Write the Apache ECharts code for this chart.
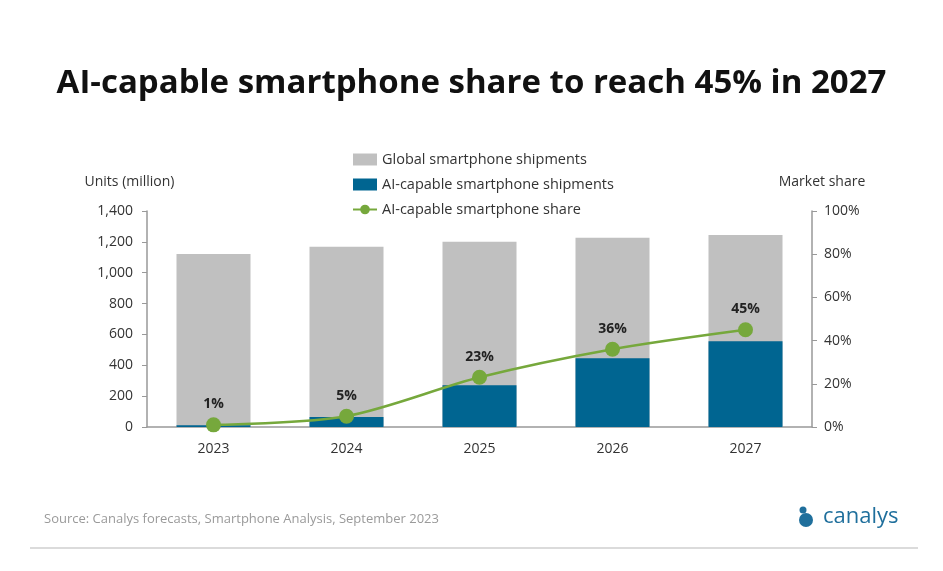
<!DOCTYPE html>
<html>
<head>
<meta charset="utf-8">
<script src="https://cdn.jsdelivr.net/npm/echarts@6/dist/echarts.min.js"></script>
<style>
  html, body { margin: 0; padding: 0; background: #fff; }
  #chart { width: 943px; height: 571px; }
</style>
</head>
<body>
<div id="chart"></div>
<script>
var years = ['2023', '2024', '2025', '2026', '2027'];
var globalShipments = [1122, 1168, 1200, 1226, 1245];
var aiShipments = [11, 65, 271, 445, 555];
var aiShare = [1, 5, 23, 36, 45];
var leftTicks = { min: 0, max: 1400, interval: 200 };
var rightTicks = { min: 0, max: 100, interval: 20 };

var font = 'Open Sans';
var myChart = echarts.init(document.getElementById('chart'));

var option = {
    backgroundColor: '#fff',
    animation: false,
    title: {
        text: 'AI-capable smartphone share to reach 45% in 2027',
        left: 'center',
        top: 62,
        textStyle: { fontFamily: font, fontSize: 33, fontWeight: 'bold', color: '#111' }
    },
    legend: {
        orient: 'vertical',
        left: 347,
        top: 147,
        itemGap: 10,
        itemWidth: 24,
        itemHeight: 12,
        textStyle: { fontFamily: font, fontSize: 14.5, color: '#333' },
        data: [
            { name: 'Global smartphone shipments', icon: 'rect' },
            { name: 'AI-capable smartphone shipments', icon: 'rect' },
            { name: 'AI-capable smartphone share', itemStyle: { borderWidth: 0 } }
        ]
    },
    grid: { left: 147, right: 131, top: 211, bottom: 144 },
    xAxis: {
        type: 'category',
        data: years,
        axisLine: { lineStyle: { color: '#999', width: 1.5 } },
        axisTick: { show: false },
        axisLabel: { fontFamily: font, fontSize: 14, color: '#333', margin: 15 }
    },
    yAxis: [
        {
            type: 'value',
            name: 'Units (million)',
            nameGap: 22,
            nameTextStyle: { fontFamily: font, fontSize: 14, color: '#333', align: 'center', padding: [0, 0, 0, -35] },
            min: leftTicks.min,
            max: leftTicks.max,
            interval: leftTicks.interval,
            axisLine: { show: true, lineStyle: { color: '#999', width: 1.5 } },
            axisTick: { show: true, length: 5, lineStyle: { color: '#999' } },
            splitLine: { show: false },
            axisLabel: {
                fontFamily: font, fontSize: 14, color: '#333', margin: 14,
                formatter: function (v) { return v.toLocaleString('en-US'); }
            }
        },
        {
            type: 'value',
            name: 'Market share',
            nameGap: 22,
            nameTextStyle: { fontFamily: font, fontSize: 14, color: '#333', padding: [0, 0, 0, 20] },
            min: rightTicks.min,
            max: rightTicks.max,
            interval: rightTicks.interval,
            axisLine: { show: true, lineStyle: { color: '#999', width: 1.5 } },
            axisTick: { show: true, length: 5, lineStyle: { color: '#999' } },
            splitLine: { show: false },
            axisLabel: { fontFamily: font, fontSize: 14, color: '#333', margin: 12, formatter: '{value}%' }
        }
    ],
    series: [
        {
            name: 'Global smartphone shipments',
            type: 'bar',
            data: globalShipments,
            barWidth: 74,
            barGap: '-100%',
            itemStyle: { color: '#c0c0c0' }
        },
        {
            name: 'AI-capable smartphone shipments',
            type: 'bar',
            data: aiShipments,
            barWidth: 74,
            barGap: '-100%',
            itemStyle: { color: '#006591' }
        },
        {
            name: 'AI-capable smartphone share',
            type: 'line',
            yAxisIndex: 1,
            data: aiShare,
            smooth: 0.3,
            symbol: 'circle',
            symbolSize: 15,
            itemStyle: { color: '#76a83c' },
            lineStyle: { color: '#76a83c', width: 2.5 },
            label: {
                show: true,
                position: 'top',
                distance: 6,
                formatter: '{c}%',
                fontFamily: font,
                fontSize: 14,
                fontWeight: 'bold',
                color: '#222'
            },
            z: 5
        }
    ],
    graphic: [
        {
            type: 'text',
            left: 44,
            top: 513,
            style: {
                text: 'Source: Canalys forecasts, Smartphone Analysis, September 2023',
                font: '13px "Open Sans"',
                fill: '#9a9a9a'
            }
        },
        {
            type: 'line',
            shape: { x1: 30, y1: 548, x2: 918, y2: 548 },
            style: { stroke: '#cfcfcf', lineWidth: 1.5 }
        },
        {
            type: 'circle',
            shape: { cx: 806, cy: 520, r: 7 },
            style: { fill: '#1f6f9c' }
        },
        {
            type: 'circle',
            shape: { cx: 803, cy: 510, r: 3.5 },
            style: { fill: '#1f6f9c' }
        },
        {
            type: 'text',
            left: 823,
            top: 506,
            style: {
                text: 'canalys',
                font: '22px "Open Sans"',
                fill: '#1f6f9c'
            }
        }
    ]
};

myChart.setOption(option);
</script>
</body>
</html>
